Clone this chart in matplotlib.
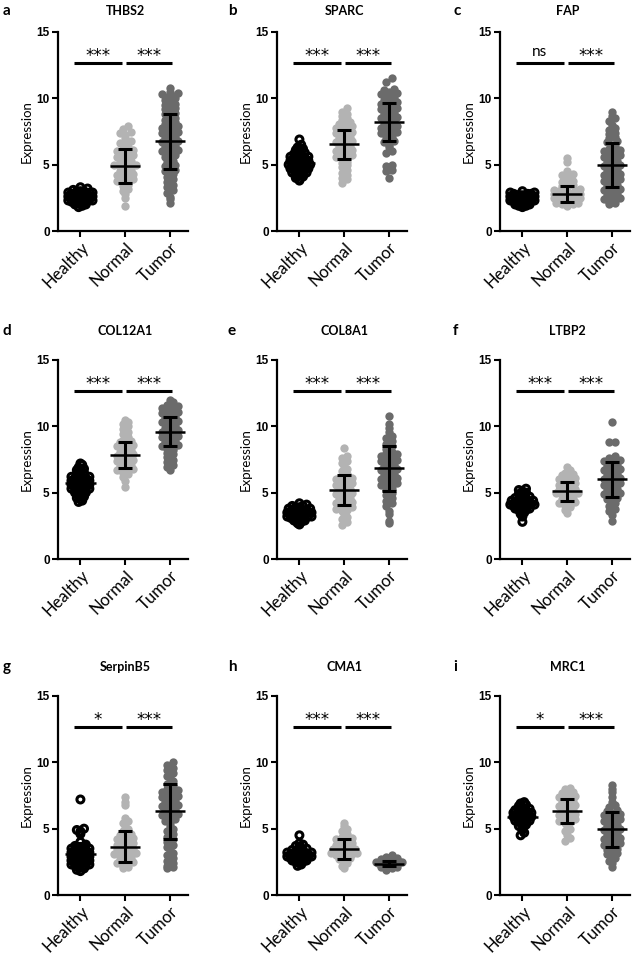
import numpy as np
import matplotlib
matplotlib.use("Agg")
import matplotlib.pyplot as plt

plt.rcParams['font.family'] = ['Lato', 'DejaVu Sans']

groups = ["Healthy", "Normal", "Tumor"]
genes = ["THBS2", "SPARC", "FAP", "COL12A1", "COL8A1", "LTBP2", "SerpinB5", "CMA1", "MRC1"]
letters = ["a", "b", "c", "d", "e", "f", "g", "h", "i"]

# significance labels: (Healthy vs Normal, Normal vs Tumor)
sig = [("***", "***"), ("***", "***"), ("ns", "***"),
       ("***", "***"), ("***", "***"), ("***", "***"),
       ("*", "***"), ("***", "***"), ("*", "***")]

# mean and SD (Healthy, Normal, Tumor)
means = [[2.6, 4.9, 6.75], [5.1, 6.55, 8.2], [2.4, 2.8, 5.0],
         [5.7, 7.85, 9.6], [3.4, 5.2, 6.85], [4.15, 5.1, 6.0],
         [3.1, 3.65, 6.3], [3.0, 3.5, 2.35], [5.9, 6.35, 4.95]]
sds = [[0.35, 1.3, 2.05], [0.55, 1.1, 1.45], [0.3, 0.6, 1.65],
       [0.55, 1.0, 1.1], [0.35, 1.15, 1.7], [0.5, 0.7, 1.3],
       [0.8, 1.15, 2.05], [0.4, 0.75, 0.2], [0.5, 0.9, 1.3]]

# THBS2
healthy_a = [1.8, 1.9, 2.0, 2.0, 2.1, 2.1, 2.2, 2.2, 2.2, 2.3, 2.3, 2.3, 2.4, 2.4, 2.4, 2.4, 2.5, 2.5, 2.5, 2.5,
             2.6, 2.6, 2.6, 2.6, 2.7, 2.7, 2.7, 2.7, 2.8, 2.8, 2.8, 2.9, 2.9, 2.9, 3.0, 3.0, 3.0, 3.1, 3.2, 3.3]
normal_a = [1.9, 2.5, 2.8, 3.0, 3.2, 3.4, 3.5, 3.6, 3.7, 3.8, 3.9, 4.0, 4.1, 4.2, 4.3, 4.4, 4.5, 4.6, 4.7, 4.8,
            4.9, 5.0, 5.0, 5.1, 5.2, 5.3, 5.4, 5.5, 5.6, 5.7, 5.8, 5.9, 6.0, 6.1, 6.2, 6.3, 6.5, 6.6, 6.8, 7.0,
            7.2, 7.4, 7.5, 7.7, 7.9]
tumor_a = [2.1, 2.4, 2.6, 2.9, 3.1, 3.3, 3.5, 3.7, 3.9, 4.1, 4.3, 4.4, 4.5, 4.6, 4.8, 4.9, 5.0, 5.2, 5.3, 5.4,
           5.6, 5.7, 5.8, 5.9, 6.0, 6.1, 6.2, 6.3, 6.4, 6.5, 6.6, 6.7, 6.8, 6.9, 7.0, 7.1, 7.2, 7.3, 7.4, 7.5,
           7.6, 7.7, 7.8, 7.9, 8.0, 8.1, 8.2, 8.3, 8.4, 8.5, 8.7, 8.8, 8.9, 9.0, 9.2, 9.3, 9.4, 9.5, 9.6, 9.8,
           9.9, 10.0, 10.1, 10.2, 10.3, 10.4, 10.5, 10.8]
# SPARC
healthy_b = [3.8, 3.9, 4.0, 4.1, 4.2, 4.2, 4.3, 4.4, 4.4, 4.5, 4.5, 4.6, 4.6, 4.7, 4.7, 4.8, 4.8, 4.9, 4.9, 5.0,
             5.0, 5.0, 5.1, 5.1, 5.2, 5.2, 5.3, 5.3, 5.4, 5.4, 5.5, 5.5, 5.6, 5.6, 5.7, 5.7, 5.8, 5.9, 6.0, 6.1,
             6.2, 6.3, 6.5, 6.9]
normal_b = [3.6, 3.9, 4.0, 4.2, 4.4, 4.6, 4.8, 5.0, 5.1, 5.2, 5.4, 5.5, 5.6, 5.7, 5.8, 5.9, 6.0, 6.1, 6.2, 6.3,
            6.4, 6.5, 6.6, 6.7, 6.8, 6.9, 7.0, 7.1, 7.2, 7.3, 7.4, 7.5, 7.6, 7.7, 7.8, 7.9, 8.0, 8.1, 8.2, 8.4,
            8.5, 8.7, 8.8, 9.0, 9.3]
tumor_b = [4.0, 4.5, 4.6, 4.9, 5.0, 5.9, 6.0, 6.3, 6.5, 6.7, 6.8, 7.0, 7.1, 7.2, 7.3, 7.4, 7.5, 7.6, 7.7, 7.8,
           7.9, 8.0, 8.1, 8.2, 8.3, 8.4, 8.5, 8.6, 8.7, 8.8, 8.9, 9.0, 9.1, 9.2, 9.3, 9.4, 9.5, 9.6, 9.7, 9.8,
           9.9, 10.0, 10.1, 10.2, 10.3, 10.4, 10.5, 10.6, 10.7, 11.2, 11.5]
# FAP
healthy_c = [1.8, 1.9, 1.9, 2.0, 2.0, 2.1, 2.1, 2.1, 2.2, 2.2, 2.2, 2.3, 2.3, 2.3, 2.3, 2.4, 2.4, 2.4, 2.4, 2.5,
             2.5, 2.5, 2.5, 2.6, 2.6, 2.6, 2.6, 2.7, 2.7, 2.7, 2.8, 2.8, 2.8, 2.9, 2.9, 3.0]
normal_c = [1.9, 2.0, 2.0, 2.1, 2.1, 2.2, 2.2, 2.3, 2.3, 2.4, 2.4, 2.5, 2.5, 2.5, 2.6, 2.6, 2.7, 2.7, 2.8, 2.8,
            2.9, 2.9, 3.0, 3.0, 3.1, 3.2, 3.3, 3.4, 3.5, 3.6, 3.7, 3.8, 4.0, 4.2, 4.3, 4.5, 5.2, 5.5]
tumor_c = [2.0, 2.1, 2.2, 2.3, 2.4, 2.5, 2.6, 2.7, 2.8, 2.9, 3.0, 3.1, 3.2, 3.3, 3.4, 3.5, 3.6, 3.7, 3.8, 3.9,
           4.0, 4.1, 4.2, 4.3, 4.4, 4.5, 4.6, 4.7, 4.8, 4.9, 5.0, 5.1, 5.2, 5.3, 5.4, 5.5, 5.6, 5.7, 5.8, 5.9,
           6.0, 6.1, 6.2, 6.4, 6.5, 6.7, 6.8, 7.0, 7.1, 7.3, 7.4, 7.6, 7.8, 8.0, 8.3, 8.5, 8.7, 9.0]
# COL12A1
healthy_d = [4.3, 4.4, 4.5, 4.6, 4.7, 4.8, 4.9, 5.0, 5.0, 5.1, 5.1, 5.2, 5.2, 5.3, 5.3, 5.4, 5.4, 5.5, 5.5, 5.6,
             5.6, 5.7, 5.7, 5.8, 5.8, 5.9, 5.9, 6.0, 6.0, 6.1, 6.1, 6.2, 6.2, 6.3, 6.4, 6.5, 6.6, 6.7, 6.8, 6.9,
             7.1, 7.2]
normal_d = [5.4, 5.9, 6.2, 6.4, 6.5, 6.6, 6.7, 6.8, 6.9, 7.0, 7.1, 7.2, 7.3, 7.4, 7.5, 7.6, 7.7, 7.8, 7.9, 8.0,
            8.1, 8.2, 8.3, 8.4, 8.5, 8.6, 8.7, 8.8, 8.9, 9.0, 9.2, 9.4, 9.6, 9.8, 10.0, 10.2, 10.3, 10.5]
tumor_d = [6.7, 6.9, 7.1, 7.3, 7.5, 7.7, 7.9, 8.0, 8.2, 8.3, 8.4, 8.5, 8.6, 8.7, 8.8, 8.9, 9.0, 9.1, 9.2, 9.3,
           9.4, 9.5, 9.6, 9.7, 9.8, 9.9, 10.0, 10.1, 10.2, 10.3, 10.4, 10.5, 10.6, 10.7, 10.8, 10.9, 11.0, 11.1,
           11.2, 11.3, 11.4, 11.5, 11.6, 11.8, 12.0]
# COL8A1
healthy_e = [2.6, 2.7, 2.8, 2.9, 2.9, 3.0, 3.0, 3.1, 3.1, 3.1, 3.2, 3.2, 3.2, 3.3, 3.3, 3.3, 3.4, 3.4, 3.4, 3.5,
             3.5, 3.5, 3.6, 3.6, 3.6, 3.7, 3.7, 3.8, 3.8, 3.9, 3.9, 4.0, 4.0, 4.1, 4.2]
normal_e = [2.6, 2.8, 3.0, 3.2, 3.4, 3.6, 3.7, 3.8, 3.9, 4.0, 4.1, 4.2, 4.3, 4.4, 4.5, 4.6, 4.7, 4.8, 4.9, 5.0,
            5.1, 5.2, 5.3, 5.4, 5.5, 5.6, 5.7, 5.8, 5.9, 6.0, 6.1, 6.2, 6.4, 6.6, 6.8, 7.0, 7.2, 7.4, 7.6, 7.8,
            8.4]
tumor_e = [2.7, 2.9, 3.4, 3.6, 4.0, 4.2, 4.4, 4.6, 4.8, 5.0, 5.2, 5.3, 5.4, 5.5, 5.6, 5.7, 5.8, 5.9, 6.0, 6.1,
           6.2, 6.3, 6.4, 6.5, 6.6, 6.7, 6.8, 6.9, 7.0, 7.1, 7.2, 7.3, 7.4, 7.5, 7.6, 7.7, 7.8, 7.9, 8.0, 8.1,
           8.3, 8.5, 8.7, 8.9, 9.1, 9.3, 9.6, 9.9, 10.2, 10.8]
# LTBP2
healthy_f = [2.8, 3.2, 3.4, 3.5, 3.6, 3.7, 3.7, 3.8, 3.8, 3.9, 3.9, 4.0, 4.0, 4.0, 4.1, 4.1, 4.1, 4.2, 4.2, 4.2,
             4.3, 4.3, 4.4, 4.4, 4.5, 4.5, 4.6, 4.6, 4.7, 4.8, 4.9, 5.0, 5.1, 5.2, 5.3]
normal_f = [3.5, 3.7, 3.9, 4.0, 4.1, 4.2, 4.3, 4.4, 4.5, 4.6, 4.7, 4.8, 4.9, 5.0, 5.0, 5.1, 5.1, 5.2, 5.3, 5.4,
            5.5, 5.6, 5.7, 5.8, 5.9, 6.0, 6.1, 6.2, 6.3, 6.4, 6.5, 6.7, 6.9]
tumor_f = [2.9, 3.3, 3.6, 3.8, 4.0, 4.2, 4.4, 4.5, 4.6, 4.7, 4.8, 4.9, 5.0, 5.1, 5.2, 5.3, 5.4, 5.5, 5.6, 5.7,
           5.8, 5.9, 6.0, 6.1, 6.2, 6.3, 6.4, 6.5, 6.6, 6.7, 6.8, 6.9, 7.0, 7.1, 7.2, 7.3, 7.4, 7.5, 7.6, 7.8,
           8.8, 8.8, 10.3]
# SerpinB5
healthy_g = [1.8, 1.9, 2.0, 2.1, 2.1, 2.2, 2.2, 2.3, 2.3, 2.4, 2.4, 2.5, 2.5, 2.6, 2.6, 2.7, 2.7, 2.8, 2.8, 2.9,
             2.9, 3.0, 3.0, 3.1, 3.1, 3.2, 3.2, 3.3, 3.3, 3.4, 3.4, 3.5, 3.5, 3.6, 3.6, 3.7, 3.8, 4.0, 4.6, 4.8,
             4.9, 5.0, 7.2]
normal_g = [2.0, 2.1, 2.2, 2.3, 2.4, 2.5, 2.6, 2.7, 2.8, 2.9, 3.0, 3.0, 3.1, 3.2, 3.3, 3.4, 3.5, 3.5, 3.6, 3.7,
            3.8, 3.9, 4.0, 4.1, 4.2, 4.3, 4.4, 4.5, 4.6, 4.8, 5.0, 5.2, 5.4, 5.6, 5.8, 6.8, 7.0, 7.4]
tumor_g = [2.0, 2.1, 2.2, 2.4, 2.6, 2.8, 3.0, 3.2, 3.4, 3.6, 3.8, 4.0, 4.2, 4.4, 4.6, 4.8, 5.0, 5.2, 5.4, 5.6,
           5.7, 5.8, 5.9, 6.0, 6.1, 6.2, 6.3, 6.4, 6.5, 6.6, 6.7, 6.8, 6.9, 7.0, 7.1, 7.2, 7.3, 7.4, 7.5, 7.6,
           7.7, 7.8, 7.9, 8.0, 8.2, 8.4, 8.6, 8.8, 9.0, 9.2, 9.4, 9.6, 9.8, 10.0]
# CMA1
healthy_h = [2.2, 2.3, 2.4, 2.5, 2.5, 2.6, 2.6, 2.7, 2.7, 2.7, 2.8, 2.8, 2.8, 2.9, 2.9, 2.9, 3.0, 3.0, 3.0, 3.1,
             3.1, 3.1, 3.2, 3.2, 3.3, 3.3, 3.4, 3.4, 3.5, 3.6, 3.7, 3.8, 3.9, 4.5]
normal_h = [2.0, 2.2, 2.4, 2.6, 2.7, 2.8, 2.9, 3.0, 3.0, 3.1, 3.2, 3.2, 3.3, 3.4, 3.4, 3.5, 3.5, 3.6, 3.7, 3.8,
            3.9, 4.0, 4.1, 4.2, 4.3, 4.4, 4.6, 4.8, 5.0, 5.2, 5.4]
tumor_h = [1.9, 2.0, 2.1, 2.1, 2.2, 2.2, 2.2, 2.3, 2.3, 2.3, 2.3, 2.4, 2.4, 2.4, 2.4, 2.5, 2.5, 2.5, 2.6, 2.6,
           2.7, 2.8, 2.9, 3.0]
# MRC1
healthy_i = [4.5, 4.7, 4.9, 5.1, 5.2, 5.3, 5.4, 5.5, 5.5, 5.6, 5.6, 5.7, 5.7, 5.8, 5.8, 5.9, 5.9, 6.0, 6.0, 6.1,
             6.1, 6.2, 6.2, 6.3, 6.3, 6.4, 6.4, 6.5, 6.6, 6.7, 6.8, 6.9, 7.0]
normal_i = [4.1, 4.3, 4.5, 4.8, 5.0, 5.2, 5.4, 5.5, 5.6, 5.7, 5.8, 5.9, 6.0, 6.1, 6.2, 6.3, 6.4, 6.5, 6.6, 6.7,
            6.8, 6.9, 7.0, 7.1, 7.2, 7.3, 7.4, 7.5, 7.6, 7.7, 7.8, 8.0, 8.1]
tumor_i = [2.1, 2.4, 2.6, 2.8, 3.0, 3.1, 3.2, 3.3, 3.4, 3.5, 3.6, 3.7, 3.8, 3.9, 4.0, 4.1, 4.2, 4.3, 4.4, 4.5,
           4.6, 4.7, 4.8, 4.9, 5.0, 5.1, 5.2, 5.3, 5.4, 5.5, 5.6, 5.7, 5.8, 5.9, 6.0, 6.1, 6.2, 6.3, 6.4, 6.6,
           6.8, 7.0, 7.4, 7.8, 8.0, 8.3]

data = [(healthy_a, normal_a, tumor_a), (healthy_b, normal_b, tumor_b), (healthy_c, normal_c, tumor_c),
        (healthy_d, normal_d, tumor_d), (healthy_e, normal_e, tumor_e), (healthy_f, normal_f, tumor_f),
        (healthy_g, normal_g, tumor_g), (healthy_h, normal_h, tumor_h), (healthy_i, normal_i, tumor_i)]


def swarm_offsets(vals, bin_h=0.36, step=0.12, maxw=0.29):
    # spread points sideways inside y bins, squeezed when a bin is too full
    vals = np.asarray(vals, dtype=float)
    offs = np.zeros(len(vals))
    bins = np.floor(vals / bin_h).astype(int)
    for b in np.unique(bins):
        idx = np.where(bins == b)[0]
        idx = idx[np.argsort(vals[idx])]
        n = len(idx)
        if n == 1:
            continue
        sp = min(step, 2 * maxw / (n - 1))
        pos = (np.arange(n) - (n - 1) / 2) * sp
        pos = pos[np.argsort(np.abs(pos), kind="stable")]
        offs[idx] = pos
    return offs


W, H = 637, 956
fig = plt.figure(figsize=(W / 100, H / 100), dpi=100)

col_left = [58, 277, 500]
row_top = [32, 360, 696]
ax_w, ax_h = 130, 199
title_y = [11, 331, 667]
letter_x = [3, 228, 453]

for k in range(9):
    r, c = divmod(k, 3)
    ax = fig.add_axes([col_left[c] / W, (H - row_top[r] - ax_h) / H, ax_w / W, ax_h / H])

    for g in range(3):
        vals = np.array(data[k][g])
        if g == 0:
            xs = g + swarm_offsets(vals, bin_h=0.3, step=0.08, maxw=0.27)
            ax.scatter(xs, vals, s=25, facecolors="none", edgecolors="black", linewidths=2.2, zorder=2)
        else:
            xs = g + swarm_offsets(vals)
            col = "#b3b3b3" if g == 1 else "#6b6b6b"
            ax.scatter(xs, vals, s=36, color=col, linewidths=0, zorder=2)
        m, sd = means[k][g], sds[k][g]
        ax.plot([g - 0.34, g + 0.34], [m, m], color="black", lw=1.8, zorder=4, solid_capstyle="butt")
        ax.plot([g, g], [m - sd, m + sd], color="black", lw=2.2, zorder=4, solid_capstyle="butt")
        ax.plot([g - 0.16, g + 0.16], [m - sd, m - sd], color="black", lw=2.2, zorder=4, solid_capstyle="butt")
        ax.plot([g - 0.16, g + 0.16], [m + sd, m + sd], color="black", lw=2.2, zorder=4, solid_capstyle="butt")

    # significance bars
    for (x0, x1), lab in zip([(-0.15, 0.92), (1.02, 2.05)], sig[k]):
        ax.plot([x0, x1], [12.7, 12.7], color="black", lw=2.2, solid_capstyle="butt")
        if lab == "ns":
            ax.text((x0 + x1) / 2, 12.95, lab, ha="center", va="bottom", fontsize=11)
        else:
            ax.text((x0 + x1) / 2, 12.55, lab, ha="center", va="bottom", fontsize=12,
                    family="DejaVu Sans")

    ax.set_xlim(-0.5, 2.4)
    ax.set_ylim(0, 15)
    ax.set_yticks([0, 5, 10, 15])
    ax.set_xticks([0, 1, 2])
    ax.set_xticklabels(groups, rotation=45, ha="right", rotation_mode="anchor", fontsize=12)
    for t in ax.get_yticklabels():
        t.set_family("Liberation Sans")
        t.set_fontweight("bold")
        t.set_fontsize(8.5)
    ax.tick_params(width=1.5, length=4, pad=2)
    ax.set_ylabel("Expression", fontsize=9.5, labelpad=3)
    for s in ["top", "right"]:
        ax.spines[s].set_visible(False)
    for s in ["left", "bottom"]:
        ax.spines[s].set_linewidth(1.6)

    # title and panel letter
    tx = ax.transData.transform((1, 0))[0] / W
    fig.text(tx, 1 - title_y[r] / H, genes[k], ha="center", va="center", fontsize=9, fontweight="bold")
    fig.text(letter_x[c] / W, 1 - title_y[r] / H, letters[k], ha="left", va="center", fontsize=11,
             fontweight="bold")

fig.savefig("out.png", dpi=100, facecolor="white")
